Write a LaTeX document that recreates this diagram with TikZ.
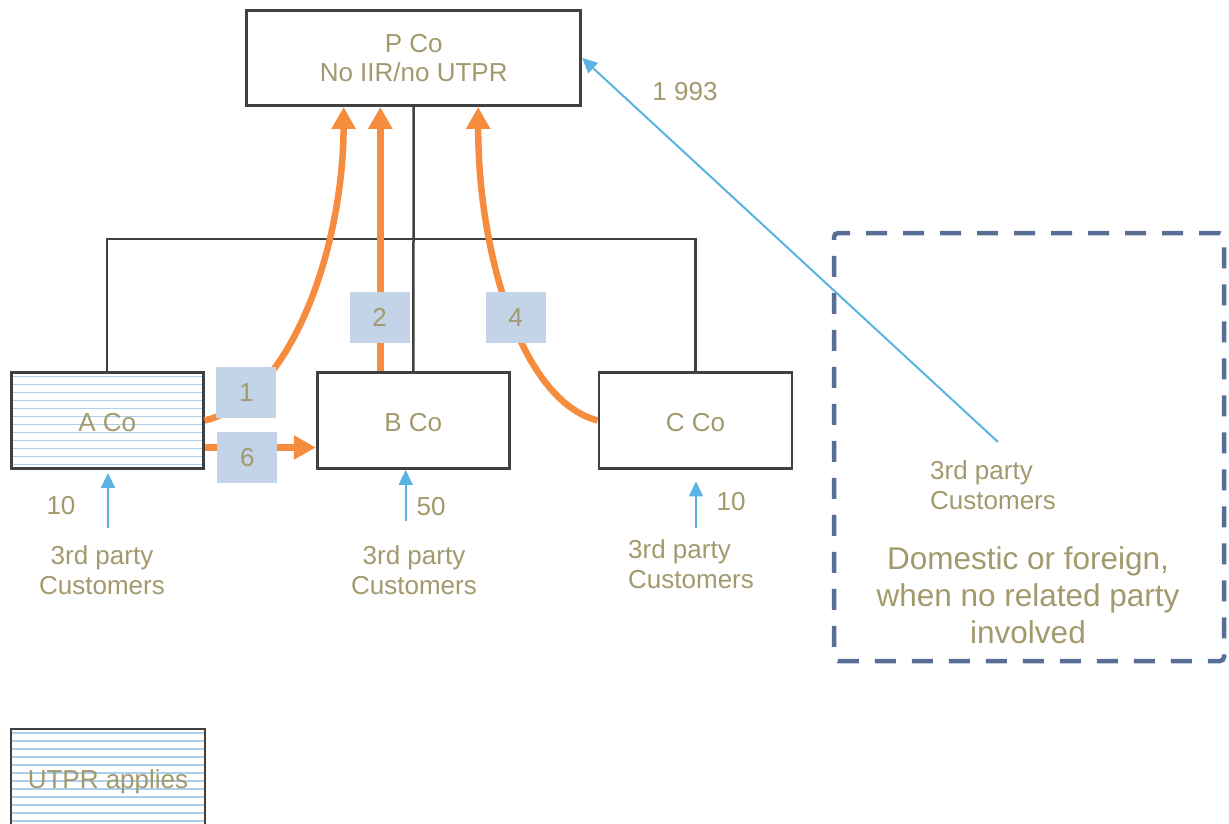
\documentclass[tikz,border=0pt]{standalone}
\usepackage{fontspec}
\setmainfont{Liberation Sans}
\usetikzlibrary{arrows.meta,calc}
\definecolor{txt}{RGB}{162,153,109}
\definecolor{boxc}{RGB}{64,64,64}
\definecolor{orangec}{RGB}{246,140,62}
\definecolor{numc}{RGB}{196,212,232}
\definecolor{bluec}{RGB}{91,179,228}
\definecolor{dashc}{RGB}{88,110,150}
\definecolor{hatchc}{RGB}{171,206,234}
\newcommand{\myfs}{\fontsize{26}{29.5}\selectfont}
\newcommand{\mybigfs}{\fontsize{31.5}{37}\selectfont}
\begin{document}
\begin{tikzpicture}[x=1pt,y=-1pt,
  company/.style={draw=boxc, line width=2.9pt, minimum width=192pt, minimum height=96pt,
    inner sep=0pt, text=txt, font=\myfs, align=center},
  oneline/.style={text height=22pt, text depth=0pt},
  hatched/.style={path picture={\foreach \yy in {4,12,...,100}{\draw[hatchc,line width=1.6pt]
      ($(path picture bounding box.north west)+(0,\yy)$) --
      ($(path picture bounding box.north east)+(0,\yy)$);}}},
  numbox/.style={fill=numc, minimum width=60pt, minimum height=51pt, inner sep=0pt,
    text=txt, font=\myfs},
  flow/.style={draw=orangec, line width=6.5pt, -{Triangle[length=22pt,width=23pt]}},
  sale/.style={draw=bluec, line width=2pt, -{Triangle[length=15pt,width=14pt]}},
  org/.style={draw=boxc, line width=2.5pt},
  cust/.style={text=txt, font=\myfs, inner sep=0pt},
  dashbox/.style={draw=dashc, line width=4.5pt, dash pattern=on 21pt off 16pt,
    rounded corners=4pt, inner sep=0pt}
]
\useasboundingbox (0,0) rectangle (1229,823);

% companies
\node[company, minimum width=334pt, minimum height=95pt] (P) at (413.7,58) {P Co\\No IIR/no UTPR};
\node[company, oneline, hatched] (A) at (107.2,420.5) {A Co};
\node[company, oneline] (B) at (413.3,420.5) {B Co};
\node[company, oneline, minimum width=193pt] (C) at (695.5,420.5) {C Co};
\node[company, hatched, minimum width=194pt, text height=22pt, text depth=0pt] (L) at (108,777) {UTPR applies};

% ownership lines
\coordinate (bus) at (413,239);
\draw[org] (P.south) -- (B.north);
\draw[org] (A.north) |- (bus) -| (C.north);

% dashed region
\node[dashbox, minimum width=390pt, minimum height=428pt] (D) at (1029,447) {};
\node[text=txt, font=\mybigfs, align=center, inner sep=0pt] (dom) at (1028,595)
  {Domestic or foreign,\\when no related party\\involved};

% orange flows
\draw[flow] (A.east) .. controls (290,400) and (343,250) .. ([xshift=-70pt]P.south);
\draw[flow] ([xshift=-33pt]B.north) -- ([xshift=-33pt]B.north |- P.south);
\draw[flow] (C.west) .. controls (520,400) and (478,250) .. ([xshift=64.5pt]P.south);
\draw[flow] ([yshift=-27pt]A.east) -- ([yshift=-27pt]B.west);

% number boxes
\node[numbox] (n1) at (246.3,392.7) {1};
\node[numbox] (n6) at (247.3,457.7) {6};
\node[numbox] (n2) at (379.5,317.8) {2};
\node[numbox] (n4) at (515.5,317.8) {4};

% customers
\node[cust, align=center] (cA) at (102,570) {3rd party\\Customers};
\node[cust, align=center] (cB) at (414,570) {3rd party\\Customers};
\node[cust, align=left, anchor=west] (cC) at (628,564) {3rd party\\Customers};
\node[cust, align=left, anchor=west] (cD) at (930,485) {3rd party\\Customers};

\coordinate (tA) at (108,528);
\coordinate (tB) at (405.7,521);
\coordinate (tC) at (696,528);
\coordinate (tD) at (998,442);
\draw[sale, shorten >=3pt] (tA) -- (tA |- A.south);
\draw[sale] (tB) -- (tB |- B.south);
\draw[sale, shorten >=11.5pt] (tC) -- (tC |- C.south);
\draw[sale] (tD) -- (P.east);

% amounts
\node[cust] (vA) at (61,505.5) {10};
\node[cust] (vB) at (431,507) {50};
\node[cust] (vC) at (731,502) {10};
\node[cust] (vD) at (685,92) {1 993};
\end{tikzpicture}
\end{document}
